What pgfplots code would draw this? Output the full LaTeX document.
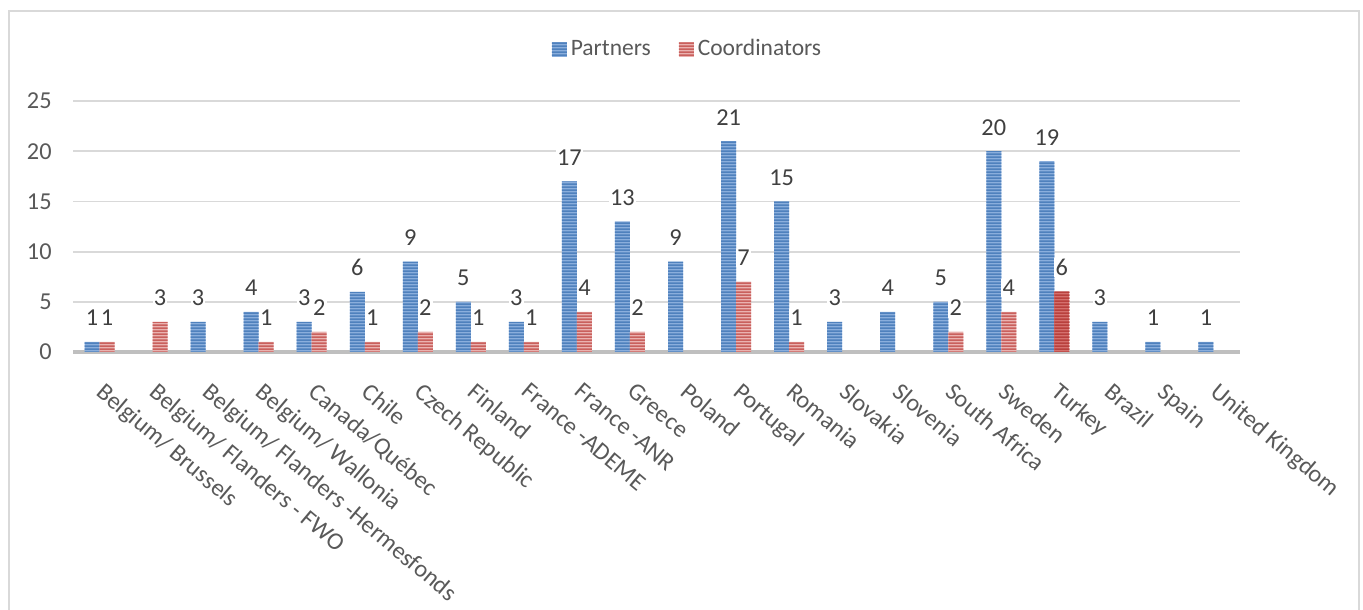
\documentclass[border=0pt]{standalone}
\usepackage{fontspec}
\setmainfont{Carlito}
\usepackage{pgfplots}
\pgfplotsset{compat=1.18}
\usetikzlibrary{patterns}

% horizontal stripe texture like the Excel fill
\pgfdeclarepatternformonly{hstripes}{\pgfpointorigin}{\pgfpoint{1bp}{1.5bp}}{\pgfpoint{1bp}{1.5bp}}{%
  \pgfpathrectangle{\pgfpointorigin}{\pgfpoint{1bp}{0.75bp}}\pgfusepath{fill}}

\definecolor{pblue}{HTML}{8AAEDC}
\definecolor{pbluedk}{HTML}{4F81BD}
\definecolor{cred}{HTML}{EAB2B0}
\definecolor{creddk}{HTML}{C9605D}
\definecolor{credt}{HTML}{D5706D}
\definecolor{creddkt}{HTML}{B8403D}
\definecolor{gridgray}{HTML}{D9D9D9}
\definecolor{basegray}{HTML}{BFBFBF}
\definecolor{ticktext}{HTML}{595959}
\definecolor{labeltext}{HTML}{404040}

\newcommand{\chartfont}{\fontsize{12.2}{14}\selectfont}
\newcommand{\legfont}{\fontsize{11.8}{14}\selectfont}

\begin{document}
\begin{tikzpicture}
\useasboundingbox (0,0) rectangle (681.5bp,305bp);
\begin{axis}[
    at={(36.5bp,129bp)}, anchor=south west,
    width=583.5bp, height=125.5bp, scale only axis,
    ybar=0pt, bar width=7.5bp,
    xmin=-0.5, xmax=21.5, ymin=0, ymax=25,
    xtick={0,...,21},
    xticklabels={{Belgium/ Brussels},{Belgium/ Flanders - FWO},{Belgium/ Flanders -Hermesfonds},
      {Belgium/ Wallonia},{Canada/Québec},{Chile},{Czech Republic},{Finland},{France -ADEME},
      {France -ANR},{Greece},{Poland},{Portugal},{Romania},{Slovakia},{Slovenia},{South Africa},
      {Sweden},{Turkey},{Brazil},{Spain},{United Kingdom}},
    ytick={0,5,...,25},
    ymajorgrids, grid style={gridgray, line width=0.9bp},
    axis x line*=bottom, axis y line*=left,
    x axis line style={-, draw=basegray, line width=2bp},
    y axis line style={draw=none},
    major tick length=0pt, tick style={draw=none},
    tick label style={font=\chartfont, text=ticktext},
    /pgf/number format/assume math mode=true,
    yticklabel style={anchor=east, inner sep=0pt, xshift=-10.5bp},
    xticklabel style={rotate=-40, anchor=north west, inner sep=0pt, xshift=12bp, yshift=-9bp},
    legend style={at={(0.5274,1.207)}, anchor=center, draw=none, fill=none,
      font=\legfont, text=ticktext, legend columns=-1,
      /tikz/every even column/.append style={column sep=12bp}},
    legend image code/.code={\path[#1] (0bp,-3.75bp) rectangle (7.5bp,3.75bp);},
    lbl/.style={nodes near coords,
      every node near coord/.append style={font=\chartfont, text=labeltext, fill=white,
        inner xsep=0.6bp, inner ysep=0.8bp, anchor=south, yshift=7bp}},
]
\addplot[lbl, bar shift=-3.75bp, draw=none, fill=pblue,
  postaction={pattern=hstripes, pattern color=pbluedk}] coordinates {
  (0,1) (2,3) (3,4) (4,3) (5,6) (6,9) (7,5) (8,3) (9,17) (10,13) (11,9)
  (12,21) (13,15) (14,3) (15,4) (16,5) (17,20) (18,19) (19,3) (20,1) (21,1)};
\addplot[lbl, bar shift=3.75bp, draw=none, fill=cred,
  postaction={pattern=hstripes, pattern color=creddk}] coordinates {
  (0,1) (1,3) (3,1) (4,2) (5,1) (6,2) (7,1) (8,1) (9,4) (10,2)
  (12,7) (13,1) (16,2) (17,4) (18,6)};
% Turkey coordinators bar is drawn in a deeper red
\addplot[forget plot, bar shift=3.75bp, draw=none, fill=credt,
  postaction={pattern=hstripes, pattern color=creddkt}] coordinates {(18,6)};
\legend{Partners, Coordinators}
\end{axis}
\draw[gridgray, line width=1bp] (4.5bp,-5bp) -- (4.5bp,299.5bp) -- (679.5bp,299.5bp) -- (679.5bp,-5bp);
\end{tikzpicture}
\end{document}
